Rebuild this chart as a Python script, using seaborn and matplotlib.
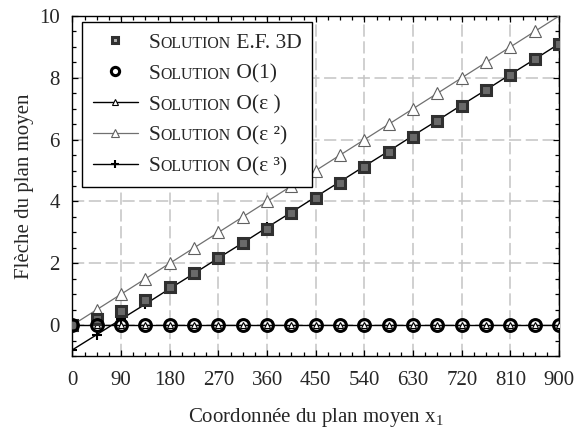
import matplotlib
matplotlib.use("Agg")
import matplotlib.pyplot as plt
import seaborn as sns
from matplotlib.offsetbox import HPacker, TextArea
from matplotlib.ticker import MultipleLocator

# values
x_pos = [0, 45, 90, 135, 180, 225, 270, 315, 360, 405, 450,
         495, 540, 585, 630, 675, 720, 765, 810, 855, 900]
sol_ef3d = [0.0, 0.19, 0.45, 0.80, 1.24, 1.70, 2.16, 2.64, 3.12, 3.62, 4.12,
            4.61, 5.10, 5.60, 6.10, 6.60, 7.10, 7.60, 8.10, 8.60, 9.10]
sol_o1 = [0.0, 0.0, 0.0, 0.0, 0.0, 0.0, 0.0, 0.0, 0.0, 0.0, 0.0,
          0.0, 0.0, 0.0, 0.0, 0.0, 0.0, 0.0, 0.0, 0.0, 0.0]
sol_eps1 = [0.0, 0.0, 0.0, 0.0, 0.0, 0.0, 0.0, 0.0, 0.0, 0.0, 0.0,
            0.0, 0.0, 0.0, 0.0, 0.0, 0.0, 0.0, 0.0, 0.0, 0.0]
sol_eps2 = [0.0, 0.5, 1.0, 1.5, 2.0, 2.5, 3.0, 3.5, 4.0, 4.5, 5.0,
            5.5, 6.0, 6.5, 7.0, 7.5, 8.0, 8.5, 9.0, 9.5, 10.0]
sol_eps3 = [-0.80, -0.31, 0.19, 0.68, 1.18, 1.67, 2.17, 2.66, 3.16, 3.65, 4.15,
            4.64, 5.14, 5.63, 6.13, 6.62, 7.12, 7.61, 8.11, 8.60, 9.10]

# legend text: "S" + small caps "OLUTION" + rest
legend_rest = ["E.F. 3D", "O(1)", "O(\u03b5 )", "O(\u03b5 \u00b2)", "O(\u03b5 \u00b3)"]

FONT = ["Liberation Serif", "DejaVu Serif"]


def small_caps_label(rest, size):
    parts = [TextArea("S", textprops=dict(fontsize=size, family=FONT)),
             TextArea("OLUTION", textprops=dict(fontsize=size * 0.74, family=FONT)),
             TextArea(" " + rest, textprops=dict(fontsize=size, family=FONT))]
    return HPacker(children=parts, align="baseline", pad=0, sep=0)


def main():
    sns.set_style("ticks")
    plt.rcParams["font.family"] = FONT
    plt.rcParams["mathtext.fontset"] = "custom"
    plt.rcParams["mathtext.rm"] = "Liberation Serif"
    plt.rcParams["mathtext.it"] = "Liberation Serif:italic"

    fig = plt.figure(figsize=(5.74, 4.32), dpi=100)
    ax = fig.add_axes([0.1263, 0.176, 0.8477, 0.787])

    sns.lineplot(x=x_pos, y=sol_eps2, ax=ax, color="#707070", lw=0.9,
                 marker="^", ms=8.5, mfc="white", mec="#606060", mew=0.8,
                 markevery=list(range(20)), label="e2", zorder=3)
    sns.lineplot(x=x_pos, y=sol_eps3, ax=ax, color="black", lw=1.0,
                 marker="+", ms=7, mew=1.5, mec="black", label="e3", zorder=4)
    sns.lineplot(x=x_pos, y=sol_eps1, ax=ax, color="black", lw=1.0,
                 marker="^", ms=4, mfc="white", mec="black", mew=0.8,
                 label="e1", zorder=4)
    sns.lineplot(x=x_pos, y=sol_ef3d, ax=ax, linestyle="none",
                 marker="s", ms=6.5, mfc="#6a6a6a", mec="#303030", mew=2.2,
                 label="ef", zorder=5)
    sns.lineplot(x=x_pos, y=sol_o1, ax=ax, linestyle="none",
                 marker="o", ms=8.5, mfc="none", mec="black", mew=2.2,
                 label="o1", zorder=6)

    ax.set_xlim(0, 900)
    ax.set_ylim(-1, 10)
    ax.xaxis.set_major_locator(MultipleLocator(90))
    ax.xaxis.set_minor_locator(MultipleLocator(22.5))
    ax.yaxis.set_major_locator(MultipleLocator(2))
    ax.yaxis.set_minor_locator(MultipleLocator(0.5))
    ax.tick_params(which="both", direction="in", top=True, right=True,
                   width=0.9, color="black")
    ax.tick_params(which="major", length=4, labelsize=15)
    ax.tick_params(which="minor", length=3)
    ax.tick_params(axis="x", which="major", pad=11)
    ax.tick_params(axis="y", which="major", pad=9)
    for s in ax.spines.values():
        s.set_linewidth(1.0)
        s.set_color("black")
    ax.grid(True, which="major", color="#c4c4c4", lw=1.1, ls=(0, (8, 3)))
    ax.set_axisbelow(True)

    ax.set_xlabel(r"Coordonnée du plan moyen x$_\mathregular{1}$", fontsize=15, labelpad=11)
    ax.set_ylabel("Flèche du plan moyen", fontsize=15, labelpad=4)

    lines = {l.get_label(): l for l in ax.get_lines()}
    order = ["ef", "o1", "e1", "e2", "e3"]
    handles = [lines[k] for k in order]
    fs = 15.5
    leg = ax.legend(handles, ["x"] * 5, loc="upper left",
                    bbox_to_anchor=(0.0195, 0.982), borderaxespad=0,
                    fontsize=fs, handlelength=2.1, handletextpad=0.5,
                    labelspacing=0.5, borderpad=0.5, fancybox=False,
                    framealpha=1, edgecolor="black", markerscale=0.7)
    leg.get_frame().set_linewidth(1.0)
    leg.set_zorder(10)
    hs = leg.legend_handles
    hs[0].set_markerfacecolor("#b0b0b0")
    hs[2].set_markersize(4.5)
    hs[3].set_markersize(5.5)
    hs[4].set_markersize(6)

    # swap plain labels for small-caps composite labels
    for col in leg._legend_handle_box.get_children():
        for item, rest in zip(col.get_children(), legend_rest):
            hbox = item.get_children()[0]
            new = small_caps_label(rest, fs)
            new.set_figure(fig)
            item._children = [hbox, new]

    fig.savefig("out.png", dpi=100)


if __name__ == "__main__":
    main()
